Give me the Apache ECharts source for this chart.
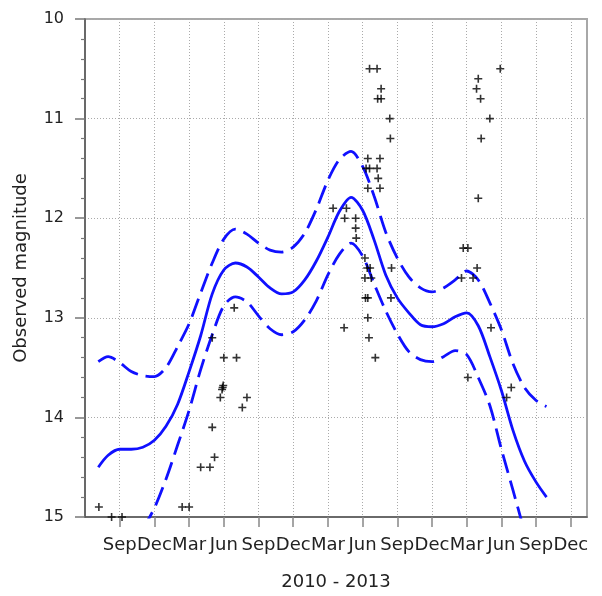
<!DOCTYPE html>
<html><head><meta charset="utf-8">
<script src="https://cdn.jsdelivr.net/npm/echarts@6/dist/echarts.min.js"></script>
<style>html,body{margin:0;padding:0;background:#fff}#c{width:602px;height:596px}</style>
</head><body><div id="c"></div>
<script>
// x values are months counted from 1 Dec 2009 (Mar 2010 = 3, Jun 2010 = 6, Sep 2010 = 9, ...)
const quarterNames = ['Dec', 'Mar', 'Jun', 'Sep'];
const tickMonths = [9, 12, 15, 18, 21, 24, 27, 30, 33, 36, 39, 42, 45, 48];
const yTicks = [10, 11, 12, 13, 14, 15];
const xTitle = '2010 - 2013';
const yTitle = 'Observed magnitude';

// observations
const obsMonth = [7.2, 8.3, 9.2, 14.4, 15.0, 16.0, 16.8, 17.2, 17.0, 17.7, 17.9, 17.95, 17.85, 17.0, 18.0, 19.1, 20.0, 19.6, 18.9,
  27.45, 28.6, 28.45, 29.4, 29.4, 29.45, 30.2, 30.4, 30.65, 32.5, 30.2, 30.75, 30.25, 30.45, 32.45, 30.45, 28.4, 30.55, 31.1,
  30.45, 31.5, 30.3, 30.6, 31.25, 31.35, 30.45, 31.5,
  30.6, 31.25, 31.6, 31.3, 31.6, 32.35, 32.4,
  38.55, 39.55, 38.7, 39.1, 39.9, 41.1, 39.1, 42.85, 42.45, 40.0, 40.0, 39.85, 40.2, 41.0, 40.25, 41.9];
const obsMag = [14.9, 15.0, 15.0, 14.9, 14.9, 14.5, 14.5, 14.4, 14.1, 13.8, 13.7, 13.68, 13.72, 13.2, 13.4, 13.4, 13.8, 13.9, 12.9,
  11.9, 11.9, 12.0, 12.0, 12.1, 12.2, 12.4, 12.5, 12.5, 12.5, 12.6, 12.6, 12.8, 12.8, 12.8, 13.0, 13.1, 13.2, 13.4,
  11.4, 11.4, 11.5, 11.5, 11.5, 11.6, 11.7, 11.7,
  10.5, 10.5, 10.7, 10.8, 10.8, 11.0, 11.2,
  12.6, 12.6, 12.3, 12.3, 12.5, 13.1, 13.6, 13.7, 13.8, 11.8, 10.6, 10.7, 10.8, 11.0, 11.2, 10.5];

// fitted curve and its confidence band
const fitMonth = [7.15, 8, 9, 10, 11, 12, 13, 14, 15, 16, 17, 18, 19, 20, 21, 22, 23, 24, 25, 26, 27, 28, 29, 30,
  31, 32, 33, 34, 35, 36, 37, 38, 39, 40, 41, 42, 43, 44, 45, 45.9];
const fitMag = [14.50, 14.38, 14.32, 14.32, 14.30, 14.23, 14.09, 13.87, 13.54, 13.18, 12.76, 12.52, 12.45, 12.49, 12.59, 12.70, 12.76, 12.74, 12.62, 12.43, 12.19, 11.93, 11.79, 11.92,
  12.22, 12.57, 12.80, 12.95, 13.07, 13.09, 13.06, 12.99, 12.95, 13.08, 13.39, 13.73, 14.13, 14.44, 14.65, 14.80];
const upperMag = [13.44, 13.39, 13.45, 13.54, 13.58, 13.59, 13.50, 13.29, 13.06, 12.75, 12.45, 12.21, 12.11, 12.16, 12.25, 12.32, 12.34, 12.29, 12.15, 11.91, 11.62, 11.41, 11.33, 11.48,
  11.78, 12.14, 12.40, 12.59, 12.70, 12.74, 12.70, 12.62, 12.53, 12.62, 12.85, 13.12, 13.46, 13.70, 13.83, 13.89];
const lowerMag = [null, null, null, null, 15.12, 14.91, 14.62, 14.28, 13.93, 13.52, 13.17, 12.88, 12.79, 12.84, 12.98, 13.11, 13.17, 13.14, 13.02, 12.83, 12.57, 12.36, 12.25, 12.38,
  12.66, 12.93, 13.16, 13.34, 13.42, 13.44, 13.39, 13.33, 13.37, 13.60, 13.88, 14.32, 14.73, 15.15, null, null];

function pairs(xs, ys) {
  const out = [];
  for (let i = 0; i < xs.length; i++) if (ys[i] !== null) out.push([xs[i], ys[i]]);
  return out;
}

const FONT = 'DejaVu Sans';
const BLUE = '#1010ff';
const chart = echarts.init(document.getElementById('c'), null, {renderer: 'canvas'});
chart.setOption({
  animation: false,
  backgroundColor: '#fff',
  grid: {left: 85, right: 15, top: 19, bottom: 76, show: true, borderColor: '#a8a8a8', borderWidth: 2, backgroundColor: 'transparent'},
  xAxis: {
    type: 'value', min: 6, max: 49.4, interval: 3,
    axisLine: {show: true, onZero: false, lineStyle: {color: '#555', width: 1.5}},
    axisTick: {show: true, length: 10, customValues: tickMonths, lineStyle: {color: '#888', width: 1.5}},
    axisLabel: {
      customValues: tickMonths,
      margin: 19, fontSize: 18, color: '#222', fontFamily: FONT,
      formatter: v => (Math.abs(v % 3) < 1e-6 && v > 6) ? quarterNames[Math.round(v / 3) % 4] : ''
    },
    splitLine: {show: true, lineStyle: {type: [1, 2], color: '#aaa', width: 1}},
    name: xTitle, nameLocation: 'middle', nameGap: 56,
    nameTextStyle: {fontSize: 18, color: '#222', fontFamily: FONT}
  },
  yAxis: {
    type: 'value', inverse: true, min: yTicks[0], max: yTicks[yTicks.length - 1], interval: 1,
    axisLine: {show: true, lineStyle: {color: '#555', width: 1.5}},
    axisTick: {show: true, length: 10, lineStyle: {color: '#777', width: 1.5}},
    minorTick: {show: true, splitNumber: 5, length: 4, lineStyle: {color: '#777', width: 1.2}},
    axisLabel: {margin: 21, fontSize: 16, color: '#222', fontFamily: FONT},
    splitLine: {show: true, lineStyle: {type: [1, 2], color: '#aaa', width: 1}},
    name: yTitle, nameLocation: 'middle', nameGap: 55,
    nameTextStyle: {fontSize: 18, color: '#222', fontFamily: FONT}
  },
  series: [
    {type: 'line', data: pairs(fitMonth, upperMag), smooth: 0.3, showSymbol: false, clip: true,
     lineStyle: {color: BLUE, width: 2.8, type: [19, 8]}, z: 3},
    {type: 'line', data: pairs(fitMonth, lowerMag), smooth: 0.3, showSymbol: false, clip: true,
     lineStyle: {color: BLUE, width: 2.8, type: [19, 8]}, z: 3},
    {type: 'line', data: pairs(fitMonth, fitMag), smooth: 0.3, showSymbol: false, clip: true,
     lineStyle: {color: BLUE, width: 2.8}, z: 3},
    {type: 'scatter', data: pairs(obsMonth, obsMag), clip: false, z: 4,
     symbol: 'path://M3.6,0h1.8v3.6h3.6v1.8h-3.6v3.6h-1.8v-3.6h-3.6v-1.8h3.6z', symbolSize: 8,
     itemStyle: {color: '#000'}}
  ]
});
</script>
</body></html>
